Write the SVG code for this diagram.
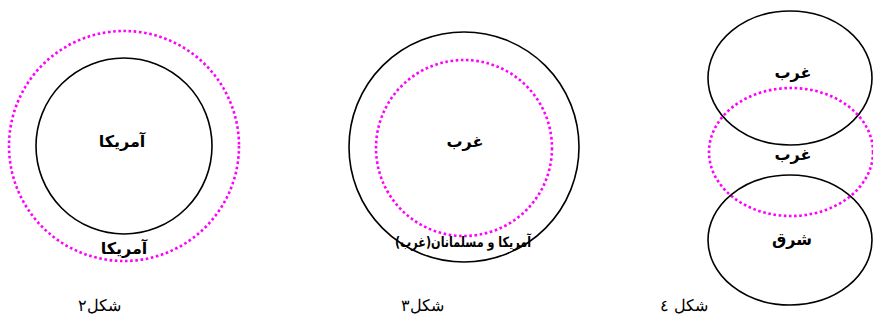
<svg xmlns="http://www.w3.org/2000/svg" width="873" height="327" viewBox="0 0 873 327">
<style>
.solid{fill:none;stroke:#000;stroke-width:1.6}
.dot{fill:none;stroke:#ff00ff;stroke-width:2.6;stroke-dasharray:2.6 2.6}
.lbl{font-family:"DejaVu Sans","Noto Sans",sans-serif;font-weight:bold;font-size:16px;fill:#000;text-anchor:middle}
.cap{font-family:"DejaVu Serif","Liberation Serif","Noto Sans",serif;font-size:16px;fill:#000;text-anchor:middle}
</style>
<rect width="873" height="327" fill="#fff"/>
<g id="fig2">
<circle class="dot" cx="124" cy="146" r="115"/>
<circle class="solid" cx="124" cy="146" r="88"/>
<text class="lbl" x="122" y="147" direction="rtl">آمریکا</text>
<text class="lbl" x="124" y="254" direction="rtl">آمریکا</text>
<text class="cap" x="99" y="311" direction="rtl">شکل۲</text>
</g>
<g id="fig3">
<circle class="solid" cx="464" cy="147" r="115"/>
<circle class="dot" cx="464" cy="148" r="88"/>
<text class="lbl" x="465" y="147" direction="rtl">غرب</text>
<text class="lbl" x="463" y="247" style="font-size:14px" textLength="136" lengthAdjust="spacingAndGlyphs" direction="rtl">آمریکا و مسلمانان(غرب)</text>
<text class="cap" x="422" y="311" direction="rtl">شکل۳</text>
</g>
<g id="fig4">
<ellipse class="solid" cx="790" cy="78" rx="82" ry="67"/>
<ellipse class="dot" cx="791" cy="152" rx="82" ry="64"/>
<ellipse class="solid" cx="790" cy="240" rx="82" ry="65"/>
<text class="lbl" x="793" y="78" direction="rtl">غرب</text>
<text class="lbl" x="793" y="160" direction="rtl">غرب</text>
<text class="lbl" x="792" y="245" direction="rtl">شرق</text>
<text class="cap" x="684" y="311" direction="rtl">شکل ٤</text>
</g>
<g id="connectors"></g>
</svg>
